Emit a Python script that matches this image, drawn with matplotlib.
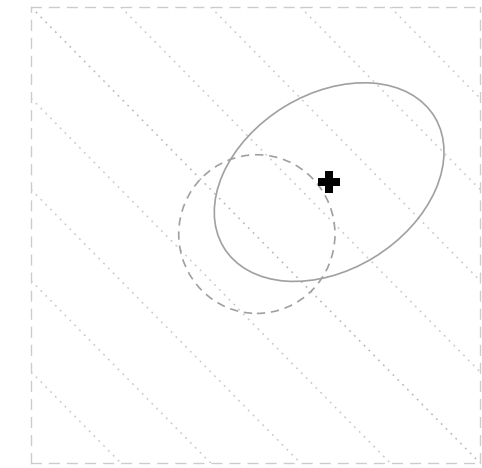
import matplotlib
matplotlib.use("Agg")
import matplotlib.pyplot as plt
from matplotlib.patches import Ellipse, Circle
import numpy as np

# Data
contour_levels = [0.2, 0.4, 0.6, 0.8, 1.0, 1.2, 1.4, 1.6, 1.8]
prior_center = (0.503, 0.502)
prior_radius = 0.174
post_center = (0.664, 0.616)
post_width = 0.55
post_height = 0.386
post_angle = 31.0

fig = plt.figure(figsize=(4.82, 4.68), dpi=100)
ax = fig.add_axes([31/482, 1-463/468, 449/482, 456/468])
ax.set_xlim(0, 1)
ax.set_ylim(0, 1)

# dotted diagonal contour lines x + y = c
for c in contour_levels:
    x0 = max(0.0, c - 1.0)
    x1 = min(1.0, c)
    col = '#b8b8b8' if abs(c - 1.0) < 1e-9 else '#cacaca'
    ax.plot([x0, x1], [c - x0, c - x1], color=col, lw=1.1,
            linestyle=(0, (1.2, 3.3)), zorder=1)

circ = Circle(prior_center, prior_radius, fill=False, edgecolor='#a0a0a0',
              lw=1.2, linestyle=(0, (5, 3.5)), zorder=2)
ax.add_patch(circ)

ell = Ellipse(post_center, post_width, post_height, angle=post_angle,
              fill=False, edgecolor='#a0a0a0', lw=1.2, zorder=3)
ax.add_patch(ell)

ax.plot([post_center[0]], [post_center[1]], marker='P', color='black',
        markersize=16, markeredgewidth=0, zorder=4)

for s in ax.spines.values():
    s.set_color('#cccccc')
    s.set_linestyle((0, (7, 6)))
    s.set_linewidth(1.0)
ax.set_xticks([])
ax.set_yticks([])

fig.savefig('out.png', dpi=100)
